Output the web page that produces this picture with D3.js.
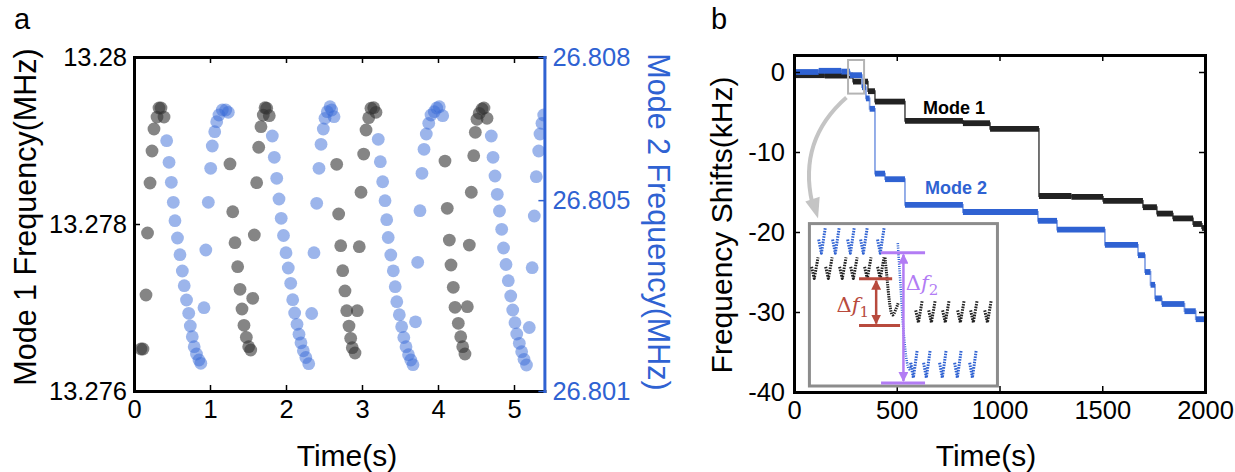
<!DOCTYPE html>
<html>
<head>
<meta charset="utf-8">
<script src="https://cdn.jsdelivr.net/npm/d3@7"></script>
<style>
body { margin: 0; background: #fff; }
svg text { font-family: "Liberation Sans", Arial, Helvetica, sans-serif; }
</style>
</head>
<body>
<svg id="chart" width="1235" height="472"></svg>
<script>
// ---- panel a : sampled frequencies, time in s, frequency in MHz
const mode1Time = [0.092,0.118,0.158,0.178,0.211,0.237,0.263,0.303,0.329,0.355,0.395,
  1.263,1.299,1.329,1.364,1.395,1.421,1.447,1.478,1.509,1.536,
  1.562,1.583,1.614,1.641,1.671,1.701,1.724,1.746,1.780,
  2.667,2.693,2.720,2.746,2.776,2.799,2.829,2.851,2.872,2.908,
  2.938,2.964,2.987,3.022,3.053,3.088,3.118,3.154,3.184,
  4.092,4.122,4.149,4.171,4.201,4.224,4.267,4.299,4.325,4.355,
  4.386,4.412,4.438,4.470,4.491,4.513,4.543,4.579,4.605,4.645]
const mode1Freq = [13.276503,13.276503,13.277150,13.277892,13.278491,13.278874,13.279138,13.279281,13.279389,13.279389,13.279281,
  13.278719,13.278147,13.277776,13.277489,13.277218,13.276982,13.276787,13.276643,13.276531,13.276491,
  13.277110,13.277868,13.278495,13.278919,13.279165,13.279305,13.279393,13.279386,13.279297,
  13.278715,13.278120,13.277740,13.277441,13.277198,13.276962,13.276778,13.276631,13.276519,13.276455,
  13.276962,13.277728,13.278380,13.278838,13.279126,13.279273,13.279386,13.279393,13.279338,
  13.278754,13.278188,13.277808,13.277509,13.277242,13.277002,13.276811,13.276650,13.276531,13.276443,
  13.277010,13.277748,13.278380,13.278818,13.279098,13.279254,13.279326,13.279377,13.279389,13.279266]

const mode2Time = [0.430,0.461,0.491,0.517,0.539,0.572,0.605,0.636,0.661,0.691,0.720,0.741,0.767,0.792,0.822,0.855,0.879,
  0.921,0.945,0.978,1.009,1.030,1.062,1.088,1.118,1.162,1.207,1.241,
  1.820,1.846,1.878,1.908,1.937,1.967,2.000,2.030,2.062,2.088,2.114,2.145,2.171,2.197,2.228,2.261,2.299,
  2.338,2.368,2.404,2.434,2.461,2.491,2.513,2.543,2.579,2.601,2.632,
  3.214,3.241,3.272,3.303,3.325,3.345,3.379,3.412,3.437,3.458,3.491,3.522,3.550,3.579,3.612,3.642,3.671,
  3.704,3.733,3.763,3.789,3.816,3.846,3.878,3.908,3.951,3.983,4.017,4.062,
  4.701,4.724,4.750,4.780,4.809,4.838,4.862,4.895,4.925,4.957,4.983,5.013,5.036,5.070,5.101,5.132,5.164,
  5.201,5.239,5.267,5.293,5.325,5.342,5.368,5.391]
const mode2Freq = [26.806246,26.805793,26.805374,26.804955,26.804569,26.804207,26.803857,26.803515,26.803207,26.802907,26.802628,26.802362,26.802138,26.801928,26.801775,26.801650,26.801581,
  26.802746,26.803955,26.804955,26.805667,26.806135,26.806434,26.806644,26.806784,26.806889,26.806889,26.806841,
  26.806344,26.805898,26.805458,26.805024,26.804619,26.804259,26.803898,26.803578,26.803257,26.802913,26.802635,26.802398,26.802190,26.802010,26.801842,26.801702,26.801572,
  26.802624,26.803898,26.804934,26.805667,26.806170,26.806491,26.806715,26.806854,26.806958,26.806889,26.806749,
  26.806275,26.805806,26.805386,26.804988,26.804590,26.804217,26.803850,26.803519,26.803186,26.802872,26.802599,26.802348,26.802121,26.801928,26.801761,26.801650,26.801551,
  26.802450,26.803697,26.804779,26.805563,26.806066,26.806386,26.806610,26.806784,26.806854,26.806931,26.806958,26.806770,
  26.806344,26.805898,26.805506,26.805122,26.804772,26.804389,26.803997,26.803651,26.803312,26.802991,26.802698,26.802431,26.802195,26.802000,26.801824,26.801664,26.801545,
  26.802331,26.803584,26.804668,26.805491,26.806030,26.806386,26.806610,26.806784]

const timeTicksA = [0, 1, 2, 3, 4, 5]
const mode1Ticks = [13.276, 13.278, 13.28]
const mode2Ticks = [26.801, 26.805, 26.808]

// ---- panel b : frequency shift steps, time in s, shift in kHz
const shift1Time = [0,150,287,360,394,540,822,954,1192,1350,1504,1698,1766,1844,1942,1985,2000]
const shift1 = [-0.4,-0.45,-1.2,-2.4,-3.7,-6.1,-6.4,-7.1,-15.5,-15.6,-16.1,-16.9,-17.7,-18.3,-19.0,-19.5,-19.6]
const shift2Time = [0,120,230,272,331,350,368,394,443,540,822,1187,1280,1513,1674,1708,1735,1757,1790,1900,1955,2000]
const shift2 = [0,0.15,0.05,-0.4,-1.9,-3.3,-4.6,-12.7,-13.4,-16.6,-17.5,-18.6,-19.7,-21.6,-22.9,-25.0,-26.6,-28.3,-29.0,-29.9,-30.9,-31.2]

const timeTicksB = [0, 500, 1000, 1500, 2000]
const shiftTicks = [0, -10, -20, -30, -40]

// inset sketch (inset units 0..100): centres of the small sawtooth glyphs
const insetBlueTop = [6.8, 14.2, 22.2, 29.1, 38.1]
const insetBlackTop = [3.0, 10.5, 17.9, 23.8, 31.2, 38.1]
const insetBlackBottom = [58.4, 65.3, 72.7, 80.7, 87.6, 95.1]
const insetBlueBottom = [55.7, 62.6, 71.1, 79.1, 87.1, 97.7]

const BLUE = "#2f62d2"
const DOT_BLUE = "#3a6bd8"

let svg = d3.select("#chart")

function styleAxis(g, color, size) {
    g.attr("font-family", null).attr("font-size", null)
    g.select(".domain").attr("stroke", color).attr("stroke-width", 3).attr("stroke-linecap", "square")
    g.selectAll(".tick line").attr("stroke", color).attr("stroke-width", 1.5)
    g.selectAll(".tick text").attr("fill", color).style("font-size", (size || 25.5) + "px")
}

// ================= panel a =================
let xA = d3.scaleLinear().domain([0, 5.4]).range([134, 544.4])
let yA1 = d3.scaleLinear().domain([13.276, 13.28]).range([391, 57])
let yA2 = d3.scaleLinear().domain([26.801, 26.808]).range([391, 57])

svg.append("defs").append("clipPath").attr("id", "clipA")
    .append("rect").attr("x", 134).attr("y", 57).attr("width", 410.4).attr("height", 334)

let dots = svg.append("g").attr("clip-path", "url(#clipA)")
dots.selectAll("circle.m1")
    .data(d3.range(mode1Time.length))
    .enter()
    .append("circle")
    .attr("class", "m1")
    .attr("cx", i => xA(mode1Time[i]))
    .attr("cy", i => yA1(mode1Freq[i]))
    .attr("r", 6.4)
    .attr("fill", "#333")
    .attr("fill-opacity", 0.6)
dots.selectAll("circle.m2")
    .data(d3.range(mode2Time.length))
    .enter()
    .append("circle")
    .attr("class", "m2")
    .attr("cx", i => xA(mode2Time[i]))
    .attr("cy", i => yA2(mode2Freq[i]))
    .attr("r", 6.4)
    .attr("fill", DOT_BLUE)
    .attr("fill-opacity", 0.5)

svg.append("g").attr("transform", "translate(0,391)")
    .call(d3.axisBottom(xA).tickValues(timeTicksA).tickSize(-6).tickSizeOuter(0).tickPadding(9).tickFormat(d3.format("d")))
    .call(g => styleAxis(g, "#000"))
svg.append("g").attr("transform", "translate(0,57)")
    .call(d3.axisTop(xA).tickValues(timeTicksA.slice(1)).tickSize(-6).tickSizeOuter(0).tickFormat(""))
    .call(g => styleAxis(g, "#000"))
svg.append("g").attr("transform", "translate(134,0)")
    .call(d3.axisLeft(yA1).tickValues(mode1Ticks).tickSize(-6).tickSizeOuter(0).tickPadding(7).tickFormat(d3.format(".3~f")))
    .call(g => styleAxis(g, "#000"))
svg.append("g").attr("transform", "translate(544.4,0)")
    .call(d3.axisRight(yA2).tickValues(mode2Ticks).tickSize(-6).tickSizeOuter(0).tickPadding(8).tickFormat(d3.format(".3f")))
    .call(g => styleAxis(g, BLUE))

svg.append("text").attr("x", 14).attr("y", 29).style("font-size", "29px").text("a")
svg.append("text")
    .attr("transform", "translate(36,217) rotate(-90)")
    .attr("text-anchor", "middle")
    .style("font-size", "30.5px")
    .text("Mode 1 Frequency(MHz)")
svg.append("text")
    .attr("transform", "translate(648,222) rotate(90)")
    .attr("text-anchor", "middle")
    .attr("fill", BLUE)
    .style("font-size", "30.5px")
    .text("Mode 2 Frequency(MHz)")
svg.append("text").attr("x", 347).attr("y", 466).attr("text-anchor", "middle")
    .style("font-size", "30px").text("Time(s)")

// ================= panel b =================
let xB = d3.scaleLinear().domain([0, 2000]).range([794, 1205])
let yB = d3.scaleLinear().domain([-40, 2.125]).range([392, 55])

function drawSteps(times, vals, color, thinColor) {
    let g = svg.append("g")
    // thin connectors for the jumps
    let thin = d3.line().curve(d3.curveStepAfter).x(i => xB(times[i])).y(i => yB(vals[i]))
    g.append("path")
        .datum(d3.range(times.length))
        .attr("d", thin)
        .attr("fill", "none")
        .attr("stroke", thinColor)
        .attr("stroke-width", 1.8)
    // thick plateaus
    g.selectAll("line")
        .data(d3.range(times.length - 1))
        .enter()
        .append("line")
        .attr("x1", i => xB(times[i]))
        .attr("x2", i => xB(times[i + 1]))
        .attr("y1", i => yB(vals[i]))
        .attr("y2", i => yB(vals[i]))
        .attr("stroke", color)
        .attr("stroke-width", 5.8)
}
drawSteps(shift1Time, shift1, "#222", "#666")
drawSteps(shift2Time, shift2, BLUE, "#8aa6e6")

svg.append("g").attr("transform", "translate(0,392)")
    .call(d3.axisBottom(xB).tickValues(timeTicksB).tickSize(-6).tickSizeOuter(0).tickPadding(9).tickFormat(d => String(d)))
    .call(g => styleAxis(g, "#000"))
svg.append("g").attr("transform", "translate(0,55)")
    .call(d3.axisTop(xB).tickValues(timeTicksB.slice(1, 4)).tickSize(-6).tickSizeOuter(0).tickFormat(""))
    .call(g => styleAxis(g, "#000"))
svg.append("g").attr("transform", "translate(794,0)")
    .call(d3.axisLeft(yB).tickValues(shiftTicks).tickSize(-6).tickSizeOuter(0).tickPadding(9).tickFormat(d => String(d)))
    .call(g => styleAxis(g, "#000"))
svg.append("g").attr("transform", "translate(1205,0)")
    .call(d3.axisRight(yB).tickValues(shiftTicks.slice(0, 4)).tickSize(-6).tickSizeOuter(0).tickFormat(""))
    .call(g => styleAxis(g, "#000"))

svg.append("text").attr("x", xB(628)).attr("y", yB(-5.2))
    .style("font-size", "18px").style("font-weight", "bold").text("Mode 1")
svg.append("text").attr("x", xB(637)).attr("y", yB(-15.2)).attr("fill", BLUE)
    .style("font-size", "18px").style("font-weight", "bold").text("Mode 2")

// zoom box + curved arrow
svg.append("rect")
    .attr("x", xB(263)).attr("y", yB(1.5))
    .attr("width", xB(341) - xB(263)).attr("height", yB(-2.7) - yB(1.5))
    .attr("fill", "none").attr("stroke", "#b4b4b4").attr("stroke-width", 2)
let arc = d3.path()
arc.moveTo(xB(255), yB(-3.2))
arc.quadraticCurveTo(xB(20), yB(-8.5), xB(88), yB(-16.3))
svg.append("path").attr("d", arc.toString())
    .attr("fill", "none").attr("stroke", "#c4c4c4").attr("stroke-width", 4)
svg.append("path")
    .attr("d", `M${xB(117)},${yB(-18.3)} L${xB(55)},${yB(-16.2)} L${xB(125)},${yB(-15.6)} Z`)
    .attr("fill", "#c4c4c4")

// inset sketch
let ix = d3.scaleLinear().domain([0, 100]).range([xB(75), xB(990)])
let iy = d3.scaleLinear().domain([0, 100]).range([yB(-18.95), yB(-39.25)])
let inset = svg.append("g")
inset.append("rect")
    .attr("x", ix(0)).attr("y", iy(0))
    .attr("width", ix(100) - ix(0)).attr("height", iy(100) - iy(0))
    .attr("fill", "#fff").attr("stroke", "#8c8c8c").attr("stroke-width", 3)

function glyphs(centres, top, bottom, color) {
    inset.selectAll(null)
        .data(centres)
        .enter()
        .append("path")
        .attr("d", c => {
            let x = ix(c), yt = iy(top), yb = iy(bottom)
            return `M${x - 3.5},${yt + 0.45 * (yb - yt)} L${x - 0.8},${yb} L${x + 3},${yt}`
        })
        .attr("fill", "none")
        .attr("stroke", color)
        .attr("stroke-width", 3)
        .attr("stroke-linejoin", "round")
        .attr("stroke-dasharray", "1.6,1.1")
}
glyphs(insetBlueTop, 2.9, 18.3, BLUE)
glyphs(insetBlackTop, 20.8, 33.8, "#222")
glyphs(insetBlackBottom, 47.3, 60.9, "#222")
glyphs(insetBlueBottom.filter(c => c < 97), 78.2, 94.9, BLUE)

let curve = d3.line().curve(d3.curveBasis).x(d => ix(d[0])).y(d => iy(d[1]))
inset.append("path")
    .attr("d", curve([[40.2, 21], [41.5, 36], [42.6, 50], [44, 58], [45.6, 54], [47.2, 49]]))
    .attr("fill", "none").attr("stroke", "#222").attr("stroke-width", 3).attr("stroke-dasharray", "1.4,1")
inset.append("path")
    .attr("d", curve([[47, 12], [48.6, 40], [49.8, 65], [51.5, 84], [53, 92], [54.5, 86]]))
    .attr("fill", "none").attr("stroke", BLUE).attr("stroke-width", 2.6).attr("stroke-dasharray", "1,1.3")

let defs = svg.select("defs")
function arrowMarker(id, color) {
    defs.append("marker").attr("id", id)
        .attr("viewBox", "0 0 10 10").attr("refX", 9).attr("refY", 5)
        .attr("markerWidth", 4).attr("markerHeight", 4).attr("orient", "auto-start-reverse")
        .append("path").attr("d", "M0,0 L10,5 L0,10 Z").attr("fill", color)
}
const RED = "#b84a3d", PURPLE = "#b27cf4"
arrowMarker("arRed", RED)
arrowMarker("arPurple", PURPLE)

function bracket(xl, xr1, xr2, ya, yb, xm, color, marker) {
    inset.append("line").attr("x1", ix(xl)).attr("x2", ix(xr1)).attr("y1", iy(ya)).attr("y2", iy(ya))
        .attr("stroke", color).attr("stroke-width", 3)
    inset.append("line").attr("x1", ix(xl)).attr("x2", ix(xr2)).attr("y1", iy(yb)).attr("y2", iy(yb))
        .attr("stroke", color).attr("stroke-width", 3)
    inset.append("line").attr("x1", ix(xm)).attr("x2", ix(xm)).attr("y1", iy(ya) + 2).attr("y2", iy(yb) - 2)
        .attr("stroke", color).attr("stroke-width", 2.5)
        .attr("marker-start", `url(#${marker})`).attr("marker-end", `url(#${marker})`)
}
bracket(26.4, 44, 48.2, 34.0, 62.8, 35.5, RED, "arRed")
bracket(38.1, 61.5, 61.5, 17.9, 98.1, 50, PURPLE, "arPurple")

function deltaLabel(cx, cy, sub, color) {
    let t = inset.append("text").attr("x", ix(cx)).attr("y", iy(cy) + 7)
        .attr("text-anchor", "middle").attr("fill", color)
        .style("font-family", "'DejaVu Serif', 'Liberation Serif', serif").style("font-size", "21px")
    t.append("tspan").text("Δ")
    t.append("tspan").style("font-style", "italic").text("f")
    t.append("tspan").attr("dy", 5).style("font-size", "15px").text(sub)
}
deltaLabel(23.1, 50.4, "1", RED)
deltaLabel(59.9, 36.8, "2", PURPLE)

svg.append("text").attr("x", 711).attr("y", 29).style("font-size", "29px").text("b")
svg.append("text")
    .attr("transform", "translate(732,225) rotate(-90)")
    .attr("text-anchor", "middle")
    .style("font-size", "30px")
    .text("Frequency Shifts(kHz)")
svg.append("text").attr("x", 986).attr("y", 466).attr("text-anchor", "middle")
    .style("font-size", "30px").text("Time(s)")
</script>
</body>
</html>
